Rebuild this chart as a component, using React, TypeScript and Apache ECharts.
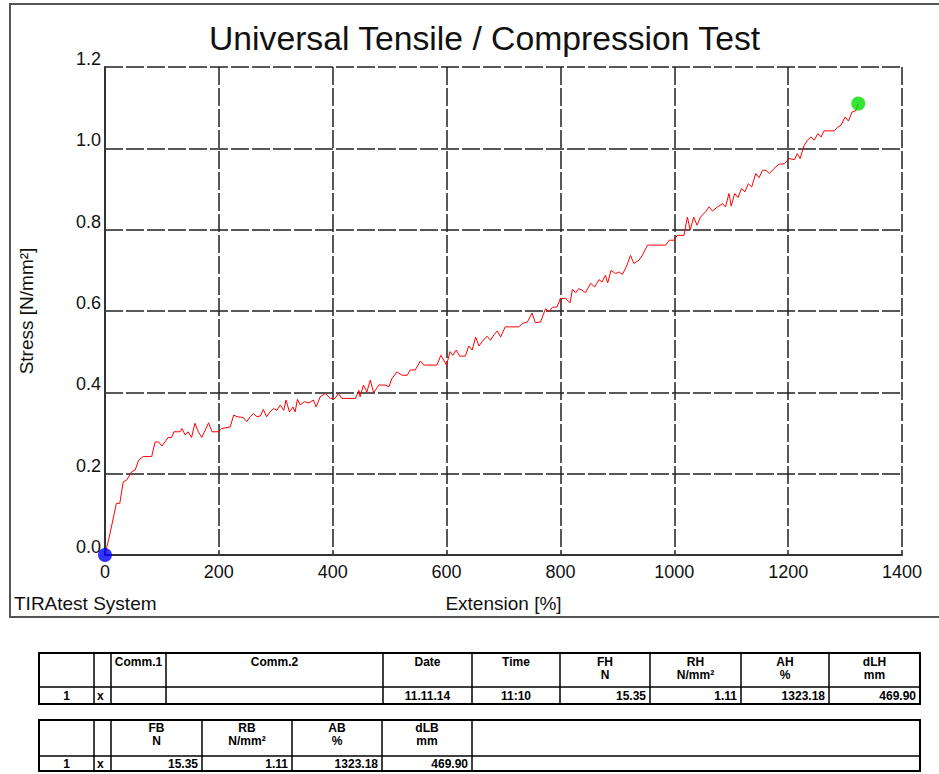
import React, { useEffect, useRef } from "react";
import * as echarts from "echarts";

// ---------- data ----------
const extension = [
  0, 9, 20, 26, 32, 38, 47, 53, 59, 67, 82, 88, 94, 100, 111, 117, 121, 132, 135, 141,
  146, 152, 158, 164, 170, 176, 182, 188, 199, 205, 220, 226, 232, 243, 249, 255, 261, 267, 273, 278,
  284, 290, 296, 302, 308, 314, 318, 324, 330, 334, 338, 343, 350, 358, 366, 371, 378, 387, 396, 404,
  410, 416, 440, 446, 448, 454, 460, 466, 472, 481, 492, 499, 504, 513, 522, 531, 536, 545, 554, 560,
  583, 590, 600, 606, 611, 617, 623, 633, 639, 645, 651, 657, 662, 671, 677, 683, 689, 695, 703, 727,
  733, 742, 750, 756, 765, 774, 780, 786, 794, 800, 809, 817, 821, 827, 832, 838, 844, 853, 860, 868,
  873, 879, 883, 889, 897, 903, 909, 917, 923, 929, 938, 944, 953, 985, 991, 1000, 1005, 1017, 1023, 1028,
  1034, 1040, 1046, 1055, 1061, 1067, 1076, 1085, 1090, 1096, 1100, 1106, 1112, 1118, 1124, 1130, 1136, 1143, 1149, 1155,
  1161, 1167, 1175, 1184, 1193, 1202, 1211, 1216, 1221, 1228, 1234, 1240, 1246, 1252, 1258, 1263, 1281, 1287, 1293, 1300,
  1306, 1312, 1319, 1323.18,
];
const stress = [
  0, 0.054, 0.127, 0.127, 0.18, 0.184, 0.205, 0.209, 0.233, 0.242, 0.242, 0.278, 0.278, 0.268, 0.289, 0.289, 0.303, 0.303, 0.311, 0.295,
  0.303, 0.289, 0.324, 0.303, 0.289, 0.307, 0.325, 0.303, 0.303, 0.311, 0.315, 0.344, 0.34, 0.338, 0.328, 0.34, 0.348, 0.34, 0.342, 0.358,
  0.34, 0.352, 0.36, 0.356, 0.369, 0.356, 0.381, 0.352, 0.364, 0.352, 0.383, 0.369, 0.377, 0.374, 0.381, 0.364, 0.389, 0.397, 0.385, 0.385,
  0.397, 0.385, 0.385, 0.405, 0.389, 0.418, 0.401, 0.43, 0.399, 0.418, 0.418, 0.414, 0.434, 0.45, 0.442, 0.442, 0.455, 0.455, 0.477, 0.467,
  0.467, 0.491, 0.467, 0.5, 0.491, 0.504, 0.489, 0.489, 0.514, 0.504, 0.536, 0.514, 0.524, 0.538, 0.528, 0.541, 0.551, 0.536, 0.561, 0.561,
  0.569, 0.573, 0.595, 0.571, 0.573, 0.606, 0.598, 0.609, 0.61, 0.631, 0.631, 0.62, 0.653, 0.645, 0.655, 0.651, 0.645, 0.668, 0.659, 0.677,
  0.671, 0.688, 0.669, 0.7, 0.692, 0.696, 0.69, 0.713, 0.737, 0.717, 0.725, 0.737, 0.762, 0.762, 0.774, 0.774, 0.786, 0.786, 0.831, 0.799,
  0.831, 0.811, 0.831, 0.844, 0.856, 0.846, 0.856, 0.864, 0.856, 0.889, 0.858, 0.889, 0.879, 0.901, 0.893, 0.913, 0.905, 0.938, 0.928, 0.946,
  0.946, 0.938, 0.95, 0.961, 0.962, 0.975, 0.972, 0.987, 0.975, 1.007, 1.02, 1.028, 1.02, 1.036, 1.028, 1.043, 1.043, 1.052, 1.057, 1.077,
  1.067, 1.089, 1.093, 1.11,
];
const startPoint = [0, 0];
const breakPoint = [1323.18, 1.11];

const titleText = "Universal Tensile / Compression Test";
const xAxisName = "Extension [%]";
const yAxisName = "Stress [N/mm²]";
const systemText = "TIRAtest System";

const table1Head1 = ["", "", "Comm.1", "Comm.2", "Date", "Time", "FH", "RH", "AH", "dLH"];
const table1Head2 = ["", "", "", "", "", "", "N", "N/mm²", "%", "mm"];
const table1Row = ["1", "x", "", "", "11.11.14", "11:10", "15.35", "1.11", "1323.18", "469.90"];

const table2Head1 = ["", "", "FB", "RB", "AB", "dLB", ""];
const table2Head2 = ["", "", "N", "N/mm²", "%", "mm", ""];
const table2Row = ["1", "x", "15.35", "1.11", "1323.18", "469.90", ""];

// ---------- layout ----------
const FONT = "'Liberation Sans', Arial, Helvetica, sans-serif";
const t1Cols = [39, 94, 111, 166, 383, 472, 560, 650, 741, 829, 920];
const t1Align = ["center", "left", "center", "center", "center", "center", "right", "right", "right", "right"];
const t2Cols = [39, 94, 111, 202, 292, 382, 472, 920];
const t2Align = ["center", "left", "right", "right", "right", "right", "left"];

function buildTable(
  cols: number[],
  top: number,
  sep: number,
  bottom: number,
  h1: string[],
  h2: string[],
  row: string[],
  aligns: string[],
  yHead: number,
  yRow: number
) {
  const els: any[] = [];
  const left = cols[0];
  const right = cols[cols.length - 1];
  els.push({
    type: "rect",
    shape: { x: left, y: top, width: right - left, height: bottom - top },
    style: { fill: "none", stroke: "#000", lineWidth: 2 },
  });
  els.push({
    type: "line",
    shape: { x1: left, y1: sep, x2: right, y2: sep },
    style: { stroke: "#000", lineWidth: 1.5 },
  });
  for (let i = 1; i < cols.length - 1; i++) {
    els.push({
      type: "line",
      shape: { x1: cols[i], y1: top, x2: cols[i], y2: bottom },
      style: { stroke: "#000", lineWidth: 1.5 },
    });
  }
  const txt = (s: string, x: number, y: number, align: string, vAlign: string) => ({
    type: "text",
    x,
    y,
    style: {
      text: s,
      fill: "#000",
      fontSize: 12,
      lineHeight: 12.5,
      fontWeight: "bold",
      fontFamily: FONT,
      align,
      verticalAlign: vAlign,
    },
  });
  for (let i = 0; i < cols.length - 1; i++) {
    const l = cols[i];
    const r = cols[i + 1];
    const c = (l + r) / 2;
    const head = h2[i] ? h1[i] + "\n" + h2[i] : h1[i];
    if (head) els.push(txt(head, c, yHead, "center", "top"));
    if (row[i]) {
      const a = aligns[i];
      const x = a === "center" ? c : a === "left" ? l + 3 : r - 4;
      els.push(txt(row[i], x, yRow, a, "middle"));
    }
  }
  return els;
}

export default function App() {
  const ref = useRef<HTMLDivElement>(null);
  useEffect(() => {
    const chart = echarts.init(ref.current!, null, { renderer: "svg" });
    const lineData = extension.map((x, i) => [x, stress[i]]);
    const graphics: any[] = [
      {
        type: "rect",
        shape: { x: 10, y: 4, width: 945, height: 613 },
        style: { fill: "none", stroke: "#555", lineWidth: 2 },
        silent: true,
      },
      {
        type: "text",
        x: 14,
        y: 603,
        style: {
          text: systemText,
          fill: "#111",
          fontSize: 19,
          fontFamily: FONT,
          align: "left",
          verticalAlign: "middle",
        },
      },
      ...buildTable(t1Cols, 653, 687, 704, table1Head1, table1Head2, table1Row, t1Align, 656, 696),
      ...buildTable(t2Cols, 720, 756, 771, table2Head1, table2Head2, table2Row, t2Align, 722, 764),
    ];
    chart.setOption({
      animation: false,
      backgroundColor: "#fff",
      title: {
        text: titleText,
        left: 204,
        top: 16,
        textStyle: { fontSize: 33.7, fontWeight: "normal", color: "#111", fontFamily: FONT },
      },
      grid: { left: 105, top: 67, width: 797, height: 488, containLabel: false },
      xAxis: {
        type: "value",
        min: 0,
        max: 1400,
        interval: 200,
        name: xAxisName,
        nameLocation: "middle",
        nameGap: 39,
        nameTextStyle: { fontSize: 19, color: "#111", fontFamily: FONT },
        axisLine: { show: true, onZero: false, lineStyle: { color: "#333", width: 2 } },
        axisTick: { show: false },
        axisLabel: {
          fontSize: 18,
          color: "#111",
          fontFamily: FONT,
          margin: 8,
          formatter: (v: number) => String(v),
        },
        splitLine: { show: true, lineStyle: { color: "#222", width: 1.5, type: [18, 3] } },
      },
      yAxis: {
        type: "value",
        min: 0,
        max: 1.2,
        interval: 0.2,
        name: yAxisName,
        nameLocation: "middle",
        nameGap: 69,
        nameRotate: 90,
        nameTextStyle: { fontSize: 19, color: "#111", fontFamily: FONT },
        axisLine: { show: true, onZero: false, lineStyle: { color: "#333", width: 2 } },
        axisTick: { show: false },
        axisLabel: {
          fontSize: 18,
          color: "#111",
          fontFamily: FONT,
          margin: 4,
          verticalAlign: "bottom",
          lineHeight: 16,
          formatter: (v: number) => v.toFixed(1),
        },
        splitLine: { show: true, lineStyle: { color: "#222", width: 1.5, type: [18, 3] } },
      },
      series: [
        {
          type: "line",
          data: lineData,
          showSymbol: false,
          lineStyle: { color: "#ff0000", width: 1 },
          z: 3,
        },
        {
          type: "scatter",
          data: [startPoint],
          symbolSize: 14,
          itemStyle: { color: "#0000ff" },
          z: 4,
          clip: false,
        },
        {
          type: "scatter",
          data: [breakPoint],
          symbolSize: 14,
          itemStyle: { color: "#00e000" },
          z: 4,
          clip: false,
        },
      ],
      graphic: graphics,
    });
    return () => chart.dispose();
  }, []);
  return (
    <div
      ref={ref}
      style={{ position: "absolute", left: 0, top: 0, width: 939, height: 774, background: "#fff" }}
    />
  );
}
